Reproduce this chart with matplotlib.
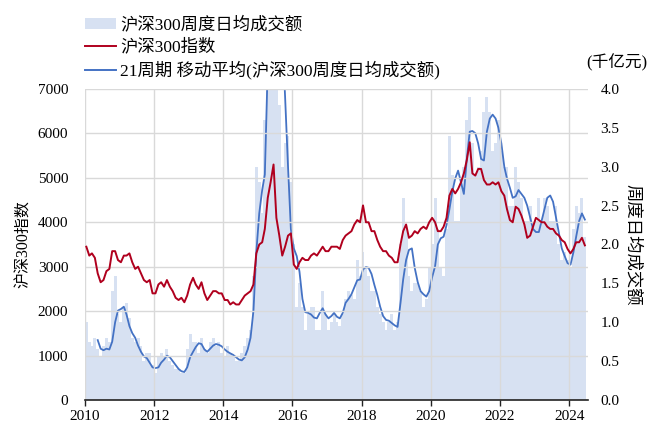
import matplotlib
matplotlib.use("Agg")
import matplotlib.pyplot as plt
from matplotlib.patches import Patch
from matplotlib.lines import Line2D
import pandas as pd

plt.rcParams['font.family'] = ['Liberation Serif', 'Noto Sans CJK SC', 'DejaVu Sans']

# monthly dates Jan 2010 - Jun 2024 (mid-month)
months = pd.date_range("2010-01-01", "2024-06-01", freq="MS") + pd.Timedelta(days=14)

# CSI 300 index (monthly)
index_vals = [
    3450, 3250, 3300, 3200, 2850, 2650, 2700, 2900, 2950, 3350, 3350, 3150,
    3100, 3250, 3250, 3300, 3100, 2950, 3000, 2850, 2700, 2650, 2700, 2400,
    2400, 2600, 2650, 2550, 2700, 2550, 2450, 2300, 2250, 2300, 2200, 2350,
    2600, 2750, 2600, 2500, 2650, 2400, 2250, 2350, 2450, 2450, 2400, 2400,
    2250, 2250, 2150, 2200, 2150, 2150, 2250, 2350, 2400, 2450, 2600, 3300,
    3500, 3550, 3850, 4550, 4900, 5300, 4100, 3700, 3250, 3450, 3700, 3750,
    3050, 2950, 3100, 3200, 3150, 3150, 3250, 3300, 3250, 3350, 3450, 3350,
    3350, 3450, 3450, 3450, 3400, 3600, 3700, 3750, 3800, 3950, 4050, 4000,
    4380, 4000, 4000, 3800, 3800, 3600, 3450, 3350, 3350, 3250, 3200, 3100,
    3100, 3500, 3800, 3950, 3650, 3700, 3800, 3750, 3850, 3900, 3850, 4000,
    4100, 4000, 3800, 3800, 3900, 4100, 4600, 4750, 4650, 4750, 4900, 5100,
    5400, 5800, 5100, 5050, 5200, 5200, 4950, 4850, 4850, 4900, 4850, 4900,
    4700, 4600, 4300, 4050, 4000, 4350, 4300, 4150, 3950, 3650, 3700, 3900,
    4100, 4050, 4000, 4000, 3900, 3850, 3850, 3750, 3700, 3600, 3550, 3400,
    3300, 3400, 3550, 3550, 3650, 3480,
]

# weekly-average daily turnover (千亿元), monthly
turnover = [
    1.0, 0.75, 0.7, 0.8, 0.65, 0.55, 0.7, 0.8, 0.75, 1.4, 1.6, 1.1,
    1.0, 1.2, 1.25, 1.05, 0.8, 0.75, 0.8, 0.7, 0.5, 0.6, 0.6, 0.45,
    0.35, 0.55, 0.6, 0.55, 0.65, 0.5, 0.45, 0.4, 0.4, 0.35, 0.35, 0.65,
    0.85, 0.75, 0.75, 0.6, 0.8, 0.65, 0.6, 0.75, 0.8, 0.7, 0.75, 0.6,
    0.55, 0.7, 0.6, 0.55, 0.5, 0.5, 0.6, 0.7, 0.8, 0.9, 1.6, 3.0,
    2.8, 2.4, 3.6, 5.0, 5.5, 6.0, 5.0, 3.8, 3.0, 3.3, 3.4, 2.8,
    2.0, 1.2, 1.5, 1.2, 0.9, 1.1, 1.2, 1.2, 0.9, 0.9, 1.4, 1.1,
    0.9, 1.0, 1.1, 1.0, 0.95, 1.1, 1.3, 1.4, 1.35, 1.3, 1.8, 1.6,
    1.9, 1.7, 1.6, 1.4, 1.4, 1.2, 1.1, 1.0, 0.9, 1.0, 1.1, 0.9,
    1.0, 2.0, 2.6, 2.2, 1.6, 1.4, 1.5, 1.5, 1.4, 1.2, 1.3, 1.7,
    2.0, 2.6, 2.2, 1.7, 1.6, 2.2, 3.4, 2.9, 2.3, 2.3, 2.8, 3.0,
    3.6, 3.9, 3.3, 2.9, 3.0, 3.2, 3.7, 3.9, 3.7, 3.2, 3.3, 3.6,
    3.2, 3.0, 3.0, 2.5, 2.5, 3.0, 2.8, 2.6, 2.3, 2.3, 2.5, 2.2,
    2.3, 2.6, 2.3, 2.6, 2.5, 2.3, 2.3, 2.5, 2.0, 1.8, 1.9, 1.8,
    1.7, 2.2, 2.5, 2.4, 2.6, 2.1,
]

# 21-week moving average (starts May 2010)
ma21 = [
    0.77, 0.66, 0.64, 0.66, 0.65, 0.75, 1.0, 1.15,
    1.17, 1.2, 1.1, 0.95, 0.86, 0.80, 0.70, 0.62, 0.56, 0.54, 0.48, 0.42,
    0.41, 0.42, 0.48, 0.52, 0.57, 0.55, 0.50, 0.45, 0.40, 0.37, 0.36, 0.42,
    0.55, 0.62, 0.68, 0.73, 0.72, 0.65, 0.62, 0.66, 0.70, 0.72, 0.71, 0.69,
    0.65, 0.62, 0.60, 0.58, 0.55, 0.52, 0.51, 0.55, 0.65, 0.80, 1.15, 1.9,
    2.4, 2.7, 2.9, 4.3, 5.2, 5.8, 5.8, 5.4, 4.7, 3.9, 3.0, 2.2,
    1.95, 1.85, 1.65, 1.3, 1.13, 1.12, 1.1, 1.06, 1.05, 1.12, 1.18, 1.1,
    1.05, 1.08, 1.12, 1.07, 1.05, 1.12, 1.25, 1.3, 1.36, 1.45, 1.54, 1.55,
    1.68, 1.71, 1.70, 1.62, 1.48, 1.35, 1.2, 1.08, 1.03, 1.02, 0.99, 0.96,
    0.94, 1.25, 1.55, 1.8, 1.93, 1.95, 1.7, 1.52, 1.40, 1.36, 1.33, 1.40,
    1.58, 1.72, 2.0, 2.08, 2.10, 2.25, 2.45, 2.68, 2.85, 2.95, 2.8, 2.65,
    3.1, 3.45, 3.46, 3.43, 3.3, 3.1, 3.08, 3.45, 3.62, 3.67, 3.62, 3.5,
    3.3, 3.0, 2.85, 2.73, 2.6, 2.62, 2.70, 2.65, 2.6, 2.5, 2.35, 2.2,
    2.16, 2.16, 2.3, 2.45, 2.6, 2.63, 2.55, 2.35, 2.15, 1.95, 1.85, 1.76,
    1.74, 1.9, 2.1, 2.3, 2.4, 2.32,
]
ma_dates = months[4:]

years = [2010, 2012, 2014, 2016, 2018, 2020, 2022, 2024]
right_ticks = [0, 0.5, 1, 1.5, 2, 2.5, 3, 3.5, 4]

bar_color = '#D7E1F2'
red = '#B0001E'
blue = '#4472C4'

fig = plt.figure(figsize=(6.49, 4.29), dpi=100)
ax = fig.add_axes([0.131, 0.0676, 0.775, 0.725])
ax2 = ax.twinx()
ax.set_zorder(2)
ax.patch.set_visible(False)
ax2.set_zorder(1)

ax2.bar(months, turnover, width=31, color=bar_color, edgecolor='none', align='center')
ax2.plot(ma_dates, ma21, color=blue, lw=1.3)
ax.plot(months, index_vals, color=red, lw=1.4)

ax.set_ylim(0, 7000)
ax2.set_ylim(0, 4.0)
ax.set_yticks(range(0, 7001, 1000))
ax2.set_yticks(right_ticks)
ax2.set_yticklabels([f"{v:.1f}" for v in right_ticks])

xlo = pd.Timestamp("2010-01-01")
xhi = pd.Timestamp("2024-07-18")
ax.set_xlim(xlo, xhi)
ax.set_xticks([pd.Timestamp(f"{y}-01-01") for y in years])
ax.set_xticklabels([str(y) for y in years])

ax.grid(True, color='#D9D9D9', lw=1.0)
for a in (ax, ax2):
    for s in ['left', 'right', 'top', 'bottom']:
        a.spines[s].set_visible(False)
ax.spines['bottom'].set_visible(True)
ax.spines['bottom'].set_color('#222222')
ax.spines['bottom'].set_linewidth(1.2)

ax.tick_params(axis='x', direction='out', length=4, width=1, color='#222222', labelsize=11, pad=3)
ax.tick_params(axis='y', length=0, labelsize=11, pad=12)
ax2.tick_params(axis='y', length=0, labelsize=11, pad=9)

ax.set_ylabel("沪深300指数", fontsize=11.5, labelpad=4)
ax2.set_ylabel("周度日均成交额", fontsize=12.5, rotation=270, labelpad=15)

fig.text(0.997, 0.855, "(千亿元)", ha='right', va='center', fontsize=12)

handles = [
    Patch(facecolor=bar_color, edgecolor='none'),
    Line2D([], [], color=red, lw=1.4),
    Line2D([], [], color=blue, lw=1.4),
]
labels = ["沪深300周度日均成交额", "沪深300指数", "21周期 移动平均(沪深300周度日均成交额)"]
fig.legend(handles, labels, loc='upper left', bbox_to_anchor=(0.112, 0.99), frameon=False,
           fontsize=12.5, handlelength=1.8, handleheight=0.6, handletextpad=0.25,
           labelspacing=0.3, borderaxespad=0.3)

fig.savefig("out.png", dpi=100)
